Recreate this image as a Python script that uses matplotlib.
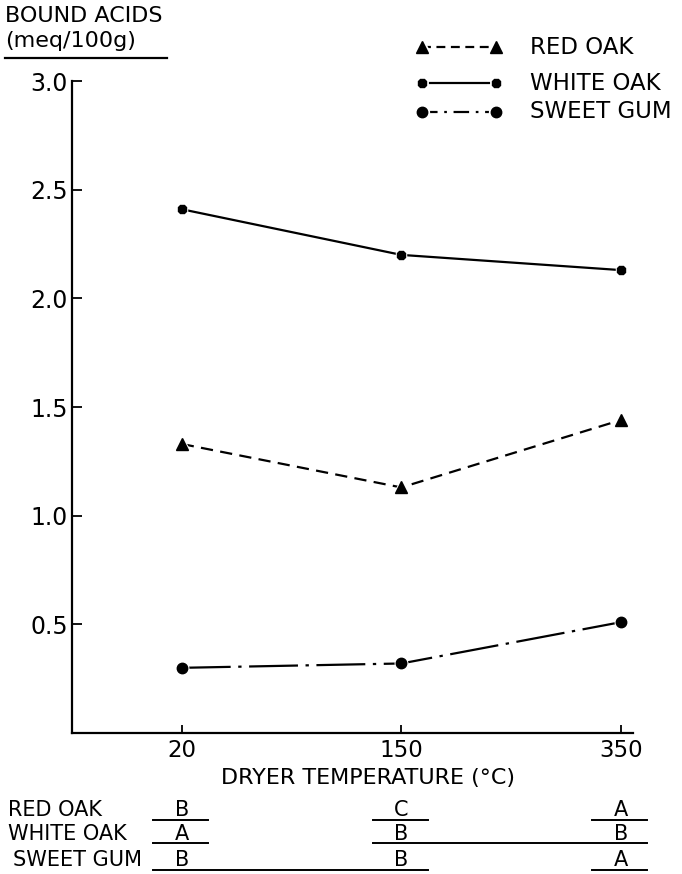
import matplotlib
matplotlib.use("Agg")
import matplotlib.pyplot as plt
import matplotlib.transforms as mtransforms

# data
temps = ["20", "150", "350"]
red_oak = [1.33, 1.13, 1.44]
white_oak = [2.41, 2.20, 2.13]
sweet_gum = [0.30, 0.32, 0.51]
yticks = [0.5, 1.0, 1.5, 2.0, 2.5, 3.0]

# significance groups under the chart (letters and underlined index spans)
species = ["RED OAK", "WHITE OAK", "SWEET GUM"]
groups = [["B", "C", "A"], ["A", "B", "B"], ["B", "B", "A"]]
spans = [[(0, 0), (1, 1), (2, 2)], [(0, 0), (1, 2)], [(0, 1), (2, 2)]]

plt.rcParams["font.family"] = "DejaVu Sans"

fig = plt.figure(figsize=(6.82, 8.74), dpi=100)
ax = fig.add_axes([0.1056, 0.1613, 0.8224, 0.746])

x = range(len(temps))
lw = 1.6
styles = {
    "red": dict(ls=(0, (5.5, 3.3)), marker="^", ms=8),
    "white": dict(ls="-", marker="8", ms=6.5),
    "gum": dict(ls=(0, (22, 3.4, 1.5, 3.4)), marker="o", ms=7.5),
}
for vals, key in [(red_oak, "red"), (white_oak, "white"), (sweet_gum, "gum")]:
    st = styles[key]
    ax.plot(x, vals, color="black", lw=lw, ls=st["ls"], marker=st["marker"],
            ms=st["ms"], mfc="black", mec="white", mew=2.5, zorder=3)
    ax.plot(x, vals, ls="none", marker=st["marker"], ms=st["ms"], color="black", zorder=4)

ax.set_xlim(-0.5, 2.055)
ax.set_ylim(0.0, 3.0)
ax.set_xticks(list(x))
ax.set_xticklabels(temps, fontsize=16.5)
ax.set_yticks(yticks)
ax.set_yticklabels([f"{v:.1f}" for v in yticks], fontsize=17)
ax.tick_params(axis="x", direction="in", length=6, width=1.3, pad=4)
ax.tick_params(axis="y", direction="in", length=7, width=1.3, pad=3)
for s in ["top", "right"]:
    ax.spines[s].set_visible(False)
for s in ["left", "bottom"]:
    ax.spines[s].set_linewidth(1.6)

fig.text(0.54, 0.110, "DRYER TEMPERATURE (°C)", ha="center", va="center", fontsize=16)

# y axis title with underline
fig.text(0.008, 0.982, "BOUND ACIDS", ha="left", va="center", fontsize=16)
fig.text(0.008, 0.953, "(meq/100g)", ha="left", va="center", fontsize=16)
fig.add_artist(plt.Line2D([0.007, 0.245], [0.934, 0.934], color="black", lw=1.6))

# legend drawn by hand
leg_y = [0.946, 0.905, 0.872]
for (key, label), y in zip([("red", "RED OAK"), ("white", "WHITE OAK"), ("gum", "SWEET GUM")], leg_y):
    st = styles[key]
    ls = st["ls"]
    if key == "red":
        ls = (0, (4.0, 2.5))
    if key == "gum":
        ls = (0, (7, 3, 1.2, 3))
    fig.add_artist(plt.Line2D([0.619, 0.728], [y, y], color="black", lw=lw, ls=ls,
                              marker=st["marker"], ms=st["ms"], mec="white", mew=3.5, mfc="black"))
    fig.add_artist(plt.Line2D([0.619, 0.728], [y, y], ls="none", color="black",
                              marker=st["marker"], ms=st["ms"]))
    fig.text(0.777, y, label, ha="left", va="center", fontsize=16.5)

# significance table
trans = mtransforms.blended_transform_factory(ax.transData, fig.transFigure)
row_y = [0.0732, 0.0458, 0.016]
line_y = [0.0618, 0.0355, 0.0046]
label_x = [0.012, 0.012, 0.019]
for i, name in enumerate(species):
    fig.text(label_x[i], row_y[i], name, ha="left", va="center", fontsize=15)
    for j, g in enumerate(groups[i]):
        ax.text(j, row_y[i], g, transform=trans, ha="center", va="center", fontsize=15, clip_on=False)
    for a, b in spans[i]:
        ax.plot([a - 0.13, b + 0.12], [line_y[i], line_y[i]], transform=trans,
                color="black", lw=1.4, clip_on=False)

fig.savefig("out.png", dpi=100)
